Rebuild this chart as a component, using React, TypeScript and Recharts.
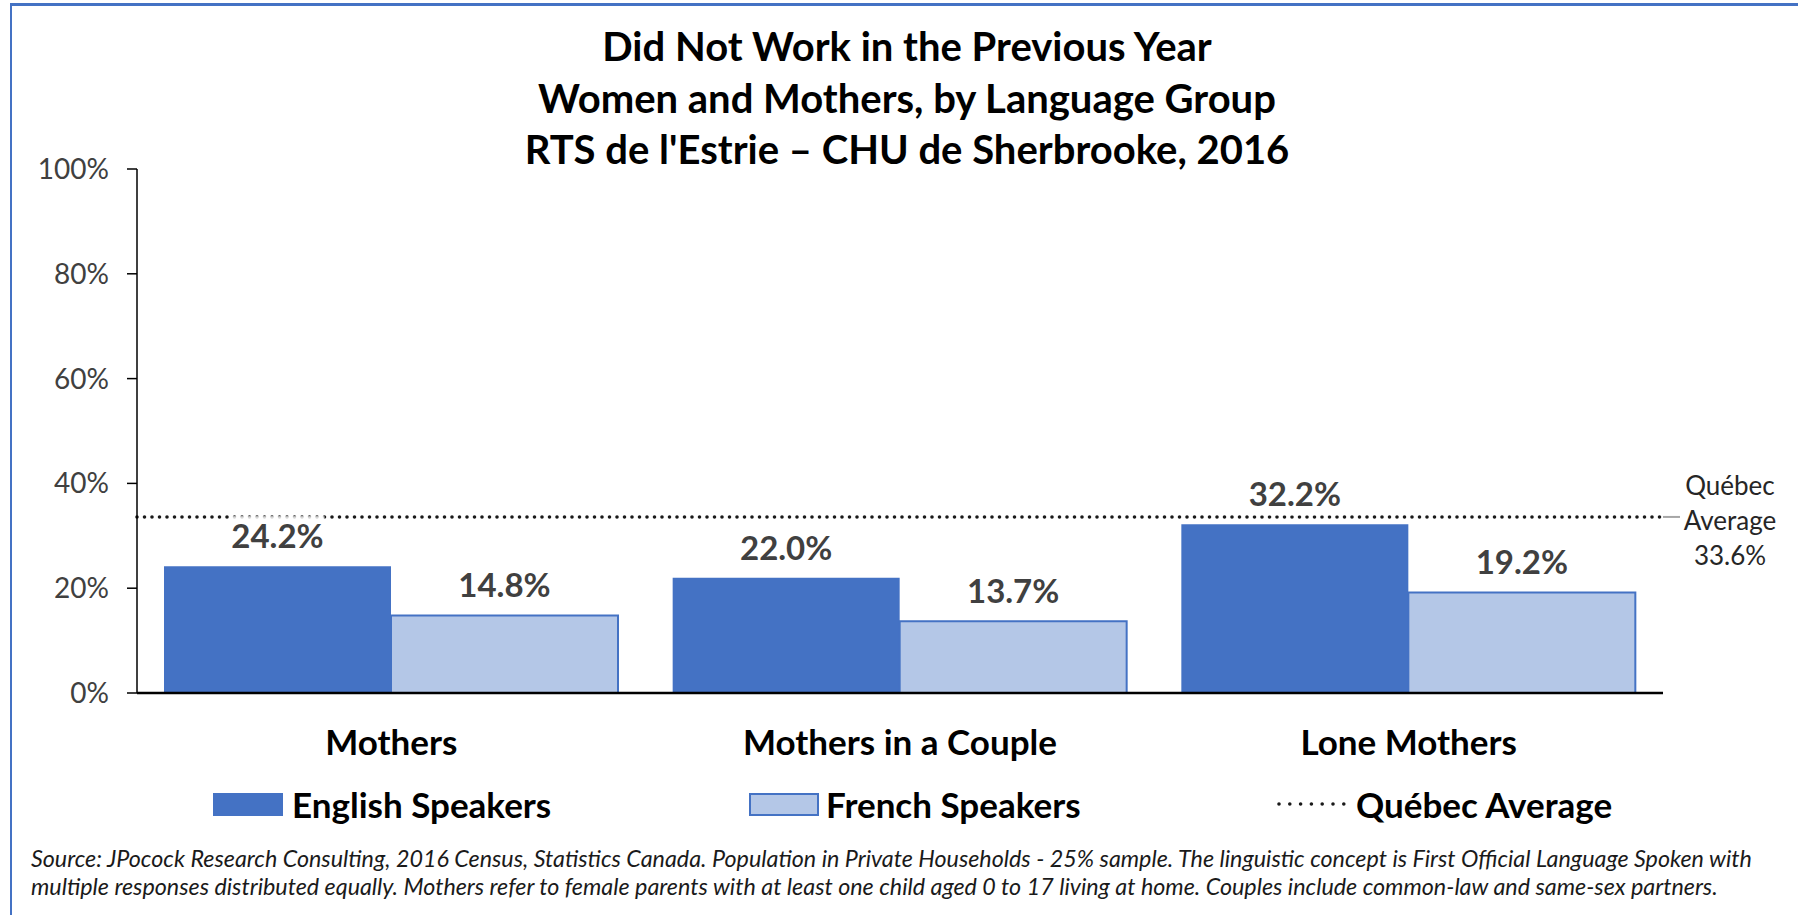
import React from "react";
import { BarChart, Bar, XAxis, YAxis, ReferenceLine, LabelList } from "recharts";

const categories = ["Mothers", "Mothers in a Couple", "Lone Mothers"];
const englishSpeakers = [24.2, 22.0, 32.2];
const frenchSpeakers = [14.8, 13.7, 19.2];
const quebecAverage = 33.6;
const yTicks = [0, 20, 40, 60, 80, 100];

const titleLines = [
  "Did Not Work in the Previous Year",
  "Women and Mothers, by Language Group",
  "RTS de l'Estrie \u2013 CHU de Sherbrooke, 2016",
];
const footnoteLines = [
  "Source: JPocock Research Consulting, 2016 Census, Statistics Canada. Population in Private Households - 25% sample. The linguistic concept is First Official Language Spoken with",
  "multiple responses distributed equally. Mothers refer to female parents with at least one child aged 0 to 17 living at home. Couples include common-law and same-sex partners.",
];

const data = categories.map((c, i) => ({
  category: c,
  english: englishSpeakers[i],
  french: frenchSpeakers[i],
}));

const FONT = "Lato, 'Open Sans', sans-serif";
const BLUE = "#4472C4";
const LIGHT = "#B4C7E7";

const fmt = (v: number) => `${v.toFixed(1)}%`;

const ValueLabel = (props: any) => {
  const { x, y, width, value } = props;
  const cx = Number(x) + Number(width) / 2;
  const base = Number(y) - 18;
  return (
    <g>
      <rect x={cx - 47} y={base - 32} width={94} height={41} fill="#ffffff" fillOpacity={0.82} />
      <text x={cx} y={base} textAnchor="middle" fontFamily={FONT} fontWeight={700} fontSize={33} fill="#404040">
        {fmt(Number(value))}
      </text>
    </g>
  );
};

const YTick = (props: any) => {
  const { x, y, payload } = props;
  return (
    <text x={Number(x)} y={Number(y) + 10} textAnchor="end" fontFamily={FONT} fontSize={28} fill="#404040">
      {`${payload.value}%`}
    </text>
  );
};

const XTick = (props: any) => {
  const { x, y, payload } = props;
  return (
    <text x={Number(x)} y={Number(y) + 54} textAnchor="middle" fontFamily={FONT} fontWeight={700} fontSize={35} fill="#000">
      {payload.value}
    </text>
  );
};

const AvgLabel = (props: any) => {
  const vb = props.viewBox || { x: 137, y: 517, width: 1526, height: 0 };
  const xr = vb.x + vb.width;
  const y = vb.y;
  const cx = xr + 67;
  return (
    <g>
      <line x1={xr} y1={y} x2={xr + 17} y2={y} stroke="#a6a6a6" strokeWidth={2} />
      <text x={cx} y={y - 32} textAnchor="middle" dominantBaseline="central" fontFamily={FONT} fontSize={26} fill="#262626">Québec</text>
      <text x={cx} y={y + 3} textAnchor="middle" dominantBaseline="central" fontFamily={FONT} fontSize={26} fill="#262626">Average</text>
      <text x={cx} y={y + 38} textAnchor="middle" dominantBaseline="central" fontFamily={FONT} fontSize={26} fill="#262626">{fmt(quebecAverage)}</text>
    </g>
  );
};

export default function App() {
  return (
    <div style={{ position: "absolute", left: 0, top: 0, width: 1798, height: 915, background: "#fff", overflow: "hidden", fontFamily: FONT }}>
      <div style={{ position: "absolute", left: 10, top: 3, width: 1788, height: 912, borderLeft: `2px solid ${BLUE}`, borderTop: `3px solid ${BLUE}` }} />
      {titleLines.map((t, i) => (
        <div key={i} style={{ position: "absolute", left: 357, width: 1100, top: 46 + i * 51.5 - 27, height: 54, lineHeight: "54px", textAlign: "center", fontWeight: 700, fontSize: 40, color: "#000" }}>
          {t}
        </div>
      ))}
      <div style={{ position: "absolute", left: 0, top: 0 }}>
        <BarChart width={1798} height={915} data={data} margin={{ top: 169, right: 135, bottom: 162, left: 37 }} barCategoryGap={27} barGap={0}>
          <XAxis dataKey="category" axisLine={{ stroke: "#000", strokeWidth: 2.5 }} tickLine={false} height={60} tick={<XTick />} interval={0} />
          <YAxis domain={[0, 100]} ticks={yTicks} width={100} axisLine={{ stroke: "#000", strokeWidth: 1.5 }} tickLine={{ stroke: "#000", strokeWidth: 1.5 }} tickSize={10} tickMargin={18} tick={<YTick />} interval={0} />
          <ReferenceLine y={quebecAverage} stroke="#1a1a1a" strokeWidth={3.6} strokeDasharray="0 7.5" strokeLinecap="round" label={<AvgLabel />} />
          <Bar dataKey="english" fill={BLUE} isAnimationActive={false}>
            <LabelList dataKey="english" content={<ValueLabel />} />
          </Bar>
          <Bar dataKey="french" fill={LIGHT} stroke={BLUE} strokeWidth={2} isAnimationActive={false}>
            <LabelList dataKey="french" content={<ValueLabel />} />
          </Bar>
        </BarChart>
      </div>
      {/* legend */}
      <div style={{ position: "absolute", left: 213, top: 793, width: 70, height: 23, background: BLUE }} />
      <div style={{ position: "absolute", left: 292, top: 782, height: 44, lineHeight: "44px", fontWeight: 700, fontSize: 35, color: "#000", whiteSpace: "nowrap" }}>English Speakers</div>
      <div style={{ position: "absolute", left: 749, top: 793, width: 66, height: 19, background: LIGHT, border: `2px solid ${BLUE}` }} />
      <div style={{ position: "absolute", left: 826, top: 782, height: 44, lineHeight: "44px", fontWeight: 700, fontSize: 35, color: "#000", whiteSpace: "nowrap" }}>French Speakers</div>
      <svg style={{ position: "absolute", left: 1270, top: 794 }} width={80} height={20}>
        <line x1={9} y1={10} x2={74} y2={10} stroke="#1a1a1a" strokeWidth={3.6} strokeDasharray="0 10.8" strokeLinecap="round" />
      </svg>
      <div style={{ position: "absolute", left: 1356, top: 782, height: 44, lineHeight: "44px", fontWeight: 700, fontSize: 35, color: "#000", whiteSpace: "nowrap" }}>Québec Average</div>
      {footnoteLines.map((t, i) => (
        <div key={i} style={{ position: "absolute", left: 31, top: 858 + i * 28 - 14, height: 28, lineHeight: "28px", fontStyle: "italic", fontSize: 23.3, color: "#1a1a1a", whiteSpace: "nowrap" }}>
          {t}
        </div>
      ))}
    </div>
  );
}
